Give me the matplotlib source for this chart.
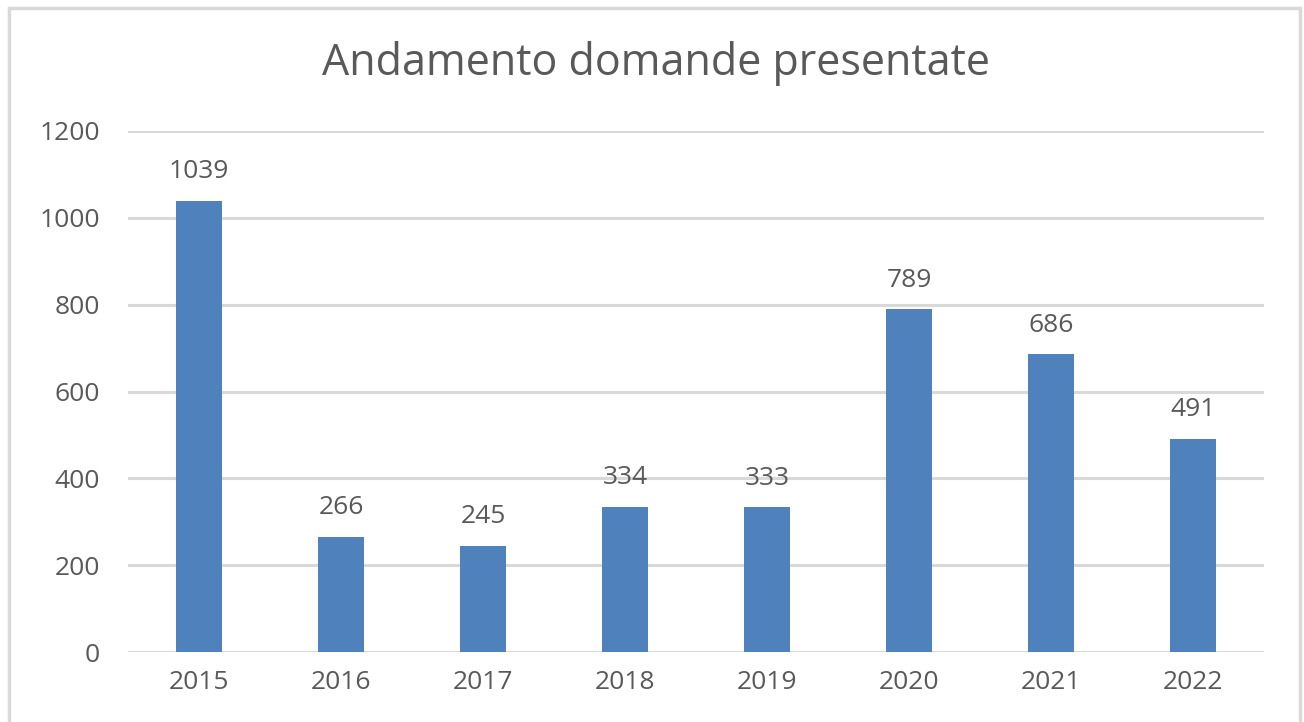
import numpy as np
import matplotlib.pyplot as plt
from matplotlib.patches import Rectangle

anni = ["2015", "2016", "2017", "2018", "2019", "2020", "2021", "2022"]
domande = [1039, 266, 245, 334, 333, 789, 686, 491]
yticks = [0, 200, 400, 600, 800, 1000, 1200]

plt.rcParams['font.family'] = ['Open Sans', 'DejaVu Sans']
grigio = '#595959'

fig = plt.figure(figsize=(13.04, 7.22), dpi=100)
ax = fig.add_axes([128/1304, 1 - 652/722, (1264 - 128)/1304, (652 - 131)/722])

x = np.arange(len(anni))
barre = ax.bar(x, domande, width=0.32, color='#4F81BD', zorder=3)
for xi, v in zip(x, domande):
    ax.text(xi, v + 38, str(v), ha='center', va='bottom', fontsize=19, color=grigio)

ax.set_xlim(-0.5, len(anni) - 0.5)
ax.set_ylim(0, 1200)
ax.set_yticks(yticks)
ax.set_xticks(x)
ax.set_xticklabels(anni)
ax.tick_params(axis='both', length=0, labelsize=19, colors=grigio)
ax.tick_params(axis='y', pad=20)
ax.tick_params(axis='x', pad=13)
ax.grid(axis='y', color='#d9d9d9', linewidth=2.2, zorder=0)
for s in ax.spines.values():
    s.set_visible(False)

fig.text(656/1304, 1 - 64/722, "Andamento domande presentate", ha='center', va='center',
         fontsize=31, color=grigio)

# cornice grigia
fig.patches.append(Rectangle((9/1304, -0.05), (1300 - 9)/1304, 1 - 8/722 + 0.05,
                             transform=fig.transFigure, fill=False,
                             edgecolor='#d9d9d9', linewidth=2.5))

fig.savefig("out.png", dpi=100)
